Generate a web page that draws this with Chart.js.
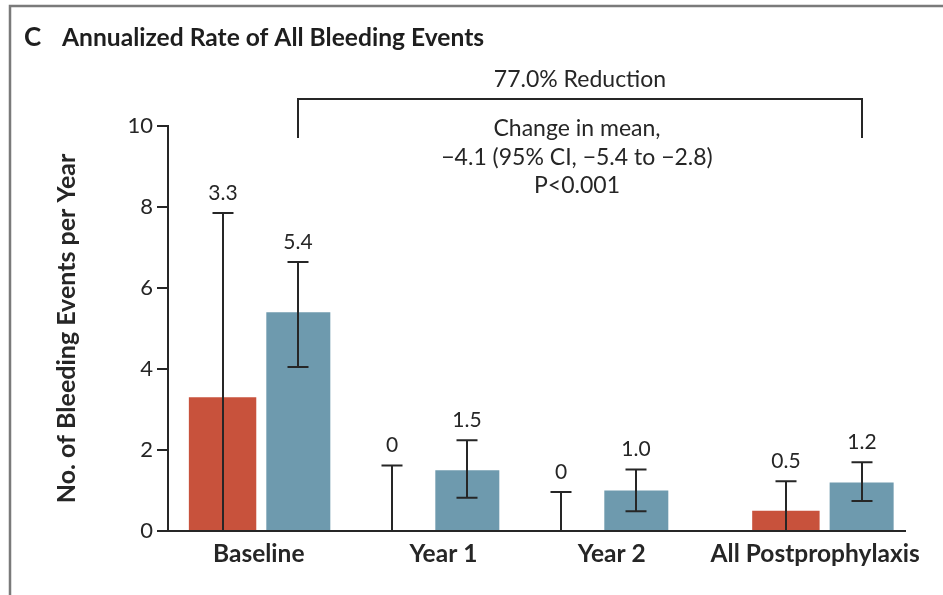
<!DOCTYPE html>
<html>
<head>
<meta charset="utf-8">
<script src="https://cdn.jsdelivr.net/npm/chart.js@4.4.1/dist/chart.umd.min.js"></script>
<style>
  html, body { margin: 0; padding: 0; background: #ffffff; }
  canvas { display: block; }
</style>
</head>
<body>
<canvas id="chart" width="943" height="595"></canvas>
<script>
// Annualized rate of all bleeding events, mean with 95% CI per period
const categories = ['Baseline', 'Year 1', 'Year 2', 'All Postprophylaxis'];

const redMeans  = [3.3, 0, 0, 0.5];
const redLower  = [0, 0, 0, 0];
const redUpper  = [7.85, 1.62, 0.96, 1.23];

const blueMeans = [5.4, 1.5, 1.0, 1.2];
const blueLower = [4.05, 0.82, 0.49, 0.74];
const blueUpper = [6.64, 2.24, 1.52, 1.70];

const yTicks = [0, 2, 4, 6, 8, 10];

const titleLetter = 'C';
const titleText = 'Annualized Rate of All Bleeding Events';
const yAxisTitle = 'No. of Bleeding Events per Year';
const bracketHeading = '77.0% Reduction';
const bracketLines = ['Change in mean,', '\u22124.1 (95% CI, \u22125.4 to \u22122.8)', 'P<0.001'];

const FONT = 'Lato, "Open Sans", sans-serif';
const INK = '#262626';
const RED = '#C8523C';
const BLUE = '#6E9AAE';

// group slots on the x axis; the pooled postprophylaxis group sits a bit further out
const SUMMARY_GAP = 1 / 3;
const slotOf = i => i + (i === categories.length - 1 ? SUMMARY_GAP : 0);
// caption offsets along the axis, in slot units
const captionShift = [-0.01, 0.083, 0.079, -0.051];

const fmt = v => (v === 0 ? '0' : v.toFixed(1));

const decor = {
  id: 'decor',
  beforeDraw(chart) {
    const ctx = chart.ctx;
    ctx.save();
    ctx.fillStyle = '#ffffff';
    ctx.fillRect(0, 0, chart.width, chart.height);
    // panel frame
    ctx.strokeStyle = '#7a7a7a';
    ctx.lineWidth = 2.5;
    ctx.beginPath();
    ctx.moveTo(10, 595);
    ctx.lineTo(10, 6);
    ctx.lineTo(943, 6);
    ctx.stroke();
    // panel title
    ctx.fillStyle = '#1e1e1e';
    ctx.textBaseline = 'alphabetic';
    ctx.textAlign = 'left';
    ctx.font = 'bold 26px ' + FONT;
    ctx.fillText(titleLetter, 24, 46);
    ctx.font = 'bold 24.6px ' + FONT;
    ctx.fillText(titleText, 62, 46);
    ctx.restore();
  },
  afterDatasetsDraw(chart) {
    const ctx = chart.ctx;
    const y = chart.scales.y;
    const groups = [
      { meta: chart.getDatasetMeta(0), lo: redLower, hi: redUpper, mean: redMeans },
      { meta: chart.getDatasetMeta(1), lo: blueLower, hi: blueUpper, mean: blueMeans }
    ];
    ctx.save();
    ctx.strokeStyle = INK;
    ctx.fillStyle = INK;
    ctx.lineWidth = 2;
    ctx.font = '21px ' + FONT;
    ctx.textAlign = 'center';
    ctx.textBaseline = 'alphabetic';
    const cap = 10.5;
    groups.forEach(g => {
      g.meta.data.forEach((bar, i) => {
        const x = Math.round(bar.x);
        const yl = y.getPixelForValue(g.lo[i]);
        const yh = y.getPixelForValue(g.hi[i]);
        ctx.beginPath();
        ctx.moveTo(x, yl);
        ctx.lineTo(x, yh);
        ctx.moveTo(x - cap, yh);
        ctx.lineTo(x + cap, yh);
        ctx.moveTo(x - cap, yl);
        ctx.lineTo(x + cap, yl);
        ctx.stroke();
        ctx.fillText(fmt(g.mean[i]), x, yh - 13);
      });
    });

    // bracket spanning the baseline and postprophylaxis comparisons
    const b = chart.getDatasetMeta(1).data;
    const x1 = Math.round(b[0].x);
    const x2 = Math.round(b[b.length - 1].x);
    const top = Math.round(y.getPixelForValue(10)) - 27;
    const legBottom = top + 39;
    ctx.lineWidth = 2;
    ctx.beginPath();
    ctx.moveTo(x1, legBottom);
    ctx.lineTo(x1, top);
    ctx.lineTo(x2, top);
    ctx.lineTo(x2, legBottom);
    ctx.stroke();
    const cx = (x1 + x2) / 2;
    ctx.font = '23px ' + FONT;
    ctx.textBaseline = 'middle';
    ctx.fillText(bracketHeading, cx, top - 19);
    bracketLines.forEach((t, k) => ctx.fillText(t, cx - 3, top + 30 + k * 28.5));
    ctx.restore();
  }
};

const toPoints = arr => arr.map((v, i) => ({ x: slotOf(i), y: v }));

new Chart(document.getElementById('chart'), {
  type: 'bar',
  data: {
    datasets: [
      { label: 'red', data: toPoints(redMeans), backgroundColor: RED, borderWidth: 0, barPercentage: 0.89, categoryPercentage: 0.9 },
      { label: 'blue', data: toPoints(blueMeans), backgroundColor: BLUE, borderWidth: 0, barPercentage: 0.845, categoryPercentage: 0.9 }
    ]
  },
  options: {
    responsive: false,
    animation: false,
    devicePixelRatio: 1,
    layout: { padding: { left: 40, top: 126, right: 38, bottom: 0 } },
    plugins: { legend: { display: false }, tooltip: { enabled: false }, title: { display: false } },
    scales: {
      x: {
        type: 'linear',
        min: -0.547,
        max: 3.814,
        offset: false,
        z: 1,
        grid: { display: false, drawOnChartArea: false, drawTicks: false, offset: false },
        border: { display: true, color: INK, width: 2 },
        ticks: {
          autoSkip: false,
          maxRotation: 0,
          padding: 8,
          color: INK,
          font: { family: FONT, size: 24.5, weight: 'bold' },
          callback: (v, idx) => categories[idx]
        },
        afterBuildTicks: s => { s.ticks = categories.map((c, i) => ({ value: slotOf(i) + captionShift[i] })); },
        afterFit: s => { s.height = 64; }
      },
      y: {
        min: 0,
        max: 10,
        grid: { display: true, drawOnChartArea: false, drawTicks: true, tickLength: 11, color: INK, lineWidth: 2 },
        border: { display: true, color: INK, width: 2 },
        ticks: { padding: 4, color: INK, font: { family: FONT, size: 22 } },
        afterBuildTicks: s => { s.ticks = yTicks.map(v => ({ value: v })); },
        title: {
          display: true,
          text: yAxisTitle,
          color: INK,
          font: { family: FONT, size: 25, weight: 'bold' },
          padding: { top: 12, bottom: 0 }
        },
        afterFit: s => { s.width = 128; }
      }
    }
  },
  plugins: [decor]
});
</script>
</body>
</html>
